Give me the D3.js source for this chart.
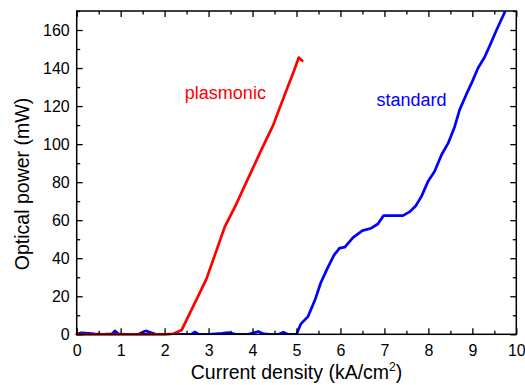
<!DOCTYPE html>
<meta charset="utf-8">
<head>
    <title>Optical power vs current density</title>
    <script src="https://cdn.jsdelivr.net/npm/d3@7/dist/d3.min.js"></script>
</head>

<style>
    body { margin: 0; background: #fff; }
    svg { font-family: "Liberation Sans", Arial, sans-serif; }
    .axis path { display: none; }
    .axis line { stroke: #000; stroke-width: 1.3px; }
    .axis text { font-size: 16px; fill: #000; }
    .curve { fill: none; stroke-width: 2.7px; stroke-linejoin: round; stroke-linecap: round; }
</style>

<svg>
    <g></g>
</svg>

<script>
    var vWidth = 525;
    var vHeight = 385;

    // plasmonic device: [current density kA/cm2, optical power mW]
    var plasmonic = [
        [0, 0], [0.5, 0], [1, 0], [1.5, 0], [2, 0], [2.2, 0.3], [2.39, 2.3],
        [2.95, 29], [3.37, 56.6], [3.6, 67], [3.8, 77], [4.0, 87], [4.2, 97],
        [4.47, 110], [4.6, 118], [4.8, 130], [4.95, 139], [5.05, 145.5], [5.13, 143.8]
    ];

    // standard device
    var standard = [
        [0, 0], [0.1, 0.8], [0.2, 0.6], [0.4, 0.2], [0.6, 0], [0.8, 0.2], [0.87, 1.8],
        [0.95, 0.2], [1.1, 0], [1.4, 0], [1.57, 1.8], [1.7, 0.8], [1.8, 0], [2.2, 0],
        [2.6, 0], [2.69, 1.2], [2.78, 0], [3.0, 0], [3.3, 0.5], [3.45, 0.9], [3.6, 0.1],
        [3.9, 0], [4.13, 1.5], [4.25, 0.2], [4.4, 0], [4.6, 0], [4.7, 1.1], [4.8, 0],
        [5.0, 0], [5.1, 5.5], [5.26, 9.3], [5.42, 18], [5.55, 27], [5.7, 34.5],
        [5.85, 41.5], [5.98, 45.3], [6.1, 45.8], [6.29, 51], [6.5, 54.5], [6.7, 55.8],
        [6.85, 58], [6.98, 62.4], [7.2, 62.4], [7.42, 62.4], [7.58, 64.5], [7.71, 67.5],
        [7.84, 72.4], [7.99, 80.3], [8.14, 85.6], [8.3, 94.4], [8.45, 100.5],
        [8.6, 109.3], [8.71, 118], [8.86, 126], [9.0, 133], [9.13, 140], [9.28, 145.8],
        [9.42, 153], [9.55, 160], [9.75, 170]
    ];

    var xTicks = [0, 1, 2, 3, 4, 5, 6, 7, 8, 9, 10];
    var yTicks = [0, 20, 40, 60, 80, 100, 120, 140, 160];
    var xMinor = [0.5, 1.5, 2.5, 3.5, 4.5, 5.5, 6.5, 7.5, 8.5, 9.5];
    var yMinor = [10, 30, 50, 70, 90, 110, 130, 150, 170];

    var margin = {top: 11, right: 8.7, bottom: 50.7, left: 76.7};
    var w = vWidth - margin.left - margin.right;
    var h = vHeight - margin.top - margin.bottom;

    var svg = d3.select('svg').attr('width', vWidth).attr('height', vHeight);
    var g = svg.select('g').attr('transform', 'translate(' + margin.left + ',' + margin.top + ')');

    var x = d3.scaleLinear().domain([0, 10]).range([0, w]);
    var y = d3.scaleLinear().domain([0, 170]).range([h, 0]);

    // curves
    var line = d3.line().x(function (d) { return x(d[0]); }).y(function (d) { return y(d[1]); });
    g.append('defs').append('clipPath').attr('id', 'clip')
        .append('rect').attr('width', w).attr('height', h);
    g.append('path').datum(standard).attr('class', 'curve')
        .attr('clip-path', 'url(#clip)').attr('stroke', '#0000ff').attr('d', line);
    g.append('path').datum(plasmonic).attr('class', 'curve')
        .attr('stroke', '#ff0000').attr('d', line);

    // axes, ticks inward on all four sides
    g.append('g').attr('class', 'axis').attr('transform', 'translate(0,' + h + ')')
        .call(d3.axisBottom(x).tickValues(xTicks).tickSize(-6).tickPadding(10.5).tickFormat(d3.format('d')));
    g.append('g').attr('class', 'axis').attr('transform', 'translate(0,' + h + ')')
        .call(d3.axisBottom(x).tickValues(xMinor).tickSize(-3.5).tickFormat(''));
    g.append('g').attr('class', 'axis')
        .call(d3.axisTop(x).tickValues(xTicks).tickSize(-6).tickFormat(''));
    g.append('g').attr('class', 'axis')
        .call(d3.axisTop(x).tickValues(xMinor).tickSize(-3.5).tickFormat(''));
    g.append('g').attr('class', 'axis')
        .call(d3.axisLeft(y).tickValues(yTicks).tickSize(-6).tickPadding(7).tickFormat(d3.format('d')));
    g.append('g').attr('class', 'axis')
        .call(d3.axisLeft(y).tickValues(yMinor).tickSize(-3.5).tickFormat(''));
    g.append('g').attr('class', 'axis').attr('transform', 'translate(' + w + ',0)')
        .call(d3.axisRight(y).tickValues(yTicks).tickSize(-6).tickFormat(''));
    g.append('g').attr('class', 'axis').attr('transform', 'translate(' + w + ',0)')
        .call(d3.axisRight(y).tickValues(yMinor).tickSize(-3.5).tickFormat(''));

    g.append('rect').attr('width', w).attr('height', h)
        .attr('fill', 'none').attr('stroke', '#000').attr('stroke-width', 1.5);

    // series labels
    g.append('text').attr('x', x(2.46)).attr('y', y(123.7))
        .attr('fill', '#ff0000').attr('font-size', 18).text('plasmonic');
    g.append('text').attr('x', x(6.82)).attr('y', y(120.2))
        .attr('fill', '#0000ff').attr('font-size', 18).text('standard');

    // axis titles
    var xt = g.append('text').attr('x', w / 2).attr('y', h + 45).attr('text-anchor', 'middle')
        .attr('font-size', 19.5);
    xt.append('tspan').text('Current density (kA/cm');
    xt.append('tspan').attr('font-size', 12).attr('dy', -8).text('2');
    xt.append('tspan').attr('dy', 8).text(')');

    g.append('text').attr('transform', 'translate(' + (29.5 - margin.left) + ',' + (184 - margin.top) + ') rotate(-90)')
        .attr('text-anchor', 'middle').attr('font-size', 19.5).text('Optical power (mW)');
</script>
